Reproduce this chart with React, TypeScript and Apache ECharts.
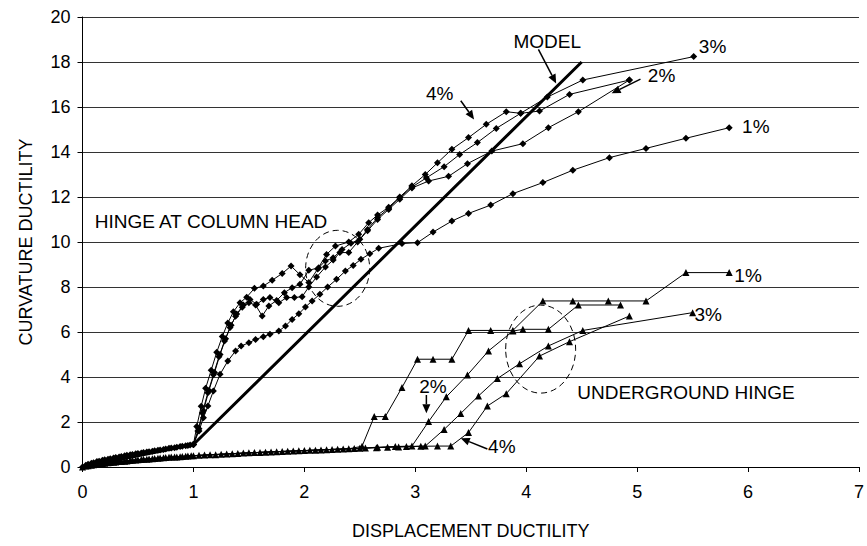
import React, { useEffect, useRef } from "react";
import * as echarts from "echarts";

const FONT = "'Liberation Sans', Arial, sans-serif";

const xAxisMin = 0;
const xAxisMax = 7;
const xAxisStep = 1;
const yAxisMin = 0;
const yAxisMax = 20;
const yAxisStep = 2;

const modelLine = [[0, 0], [1, 1], [4.5, 18]];

// Hinge at column head (diamond markers)
const head1 = [
  [0, 0], [0.1, 0.19], [0.2, 0.32], [0.3, 0.42], [0.4, 0.52], [0.5, 0.6], [0.6, 0.68], [0.7, 0.76], [0.8, 0.84], [0.9, 0.92],
  [1.0, 1.0], [1.05, 1.6], [1.09, 2.19], [1.13, 2.71], [1.18, 3.38], [1.24, 4.12], [1.31, 4.71], [1.38, 5.16], [1.43, 5.38],
  [1.5, 5.52], [1.56, 5.67], [1.63, 5.79], [1.69, 5.9], [1.77, 6.04], [1.83, 6.27], [1.89, 6.56], [1.95, 6.81], [2.01, 7.11],
  [2.07, 7.38], [2.14, 7.68], [2.21, 8.0], [2.29, 8.34], [2.37, 8.71], [2.44, 8.96], [2.51, 9.23], [2.59, 9.48], [2.67, 9.72],
  [2.88, 9.93], [3.02, 9.97], [3.16, 10.44], [3.33, 10.93], [3.48, 11.27], [3.68, 11.64], [3.88, 12.15], [4.15, 12.64],
  [4.42, 13.19], [4.75, 13.75], [5.08, 14.16], [5.44, 14.61], [5.83, 15.08],
];
const head2 = [
  [0.05, 0.12], [0.15, 0.26], [0.25, 0.37], [0.35, 0.47], [0.45, 0.56], [0.55, 0.64], [0.65, 0.72], [0.75, 0.8], [0.85, 0.88], [0.95, 0.96],
  [1.0, 1.0], [1.05, 1.7], [1.09, 2.5], [1.14, 3.4], [1.19, 4.2], [1.24, 5.0], [1.29, 5.7], [1.34, 6.3], [1.39, 6.8], [1.45, 7.2],
  [1.51, 7.45], [1.57, 7.23], [1.63, 7.45], [1.69, 7.53], [1.77, 7.3], [1.84, 7.53], [1.91, 7.53], [1.98, 7.57], [2.04, 8.0],
  [2.11, 8.44], [2.19, 8.89], [2.26, 9.2], [2.32, 9.53], [2.4, 9.53], [2.48, 10.0], [2.57, 10.5], [2.66, 11.0], [2.76, 11.45],
  [2.86, 11.9], [2.97, 12.4], [3.12, 12.71], [3.3, 12.92], [3.47, 13.48], [3.69, 14.04], [3.97, 14.37], [4.2, 15.08],
  [4.47, 15.79], [4.93, 17.2],
];
const head3 = [
  [0.03, 0.08], [0.13, 0.24], [0.23, 0.35], [0.33, 0.45], [0.43, 0.54], [0.53, 0.62], [0.63, 0.7], [0.73, 0.78], [0.83, 0.86], [0.93, 0.94],
  [1.0, 1.0], [1.04, 1.6], [1.08, 2.4], [1.13, 3.3], [1.18, 4.1], [1.23, 4.9], [1.28, 5.6], [1.33, 6.2], [1.38, 6.7], [1.44, 7.1],
  [1.5, 7.3], [1.56, 7.2], [1.62, 6.71], [1.68, 7.16], [1.75, 7.4], [1.82, 7.75], [1.89, 7.97], [1.96, 8.12], [2.04, 8.74],
  [2.13, 8.86], [2.19, 9.16], [2.26, 9.3], [2.34, 9.67], [2.42, 9.95], [2.5, 10.12], [2.57, 10.56], [2.66, 11.08], [2.76, 11.5],
  [2.86, 11.97], [2.97, 12.44], [3.1, 12.85], [3.26, 13.35], [3.4, 13.89], [3.56, 14.42], [3.73, 15.05], [3.95, 15.72],
  [4.19, 16.44], [4.51, 17.2], [5.51, 18.24],
];
const head4 = [
  [0.08, 0.17], [0.18, 0.3], [0.28, 0.4], [0.38, 0.5], [0.48, 0.59], [0.58, 0.67], [0.68, 0.75], [0.78, 0.83], [0.88, 0.91], [0.97, 0.98],
  [1.0, 1.0], [1.03, 1.8], [1.07, 2.7], [1.11, 3.5], [1.16, 4.3], [1.21, 5.1], [1.26, 5.8], [1.31, 6.4], [1.36, 6.9], [1.42, 7.3],
  [1.48, 7.55], [1.55, 7.94], [1.63, 8.04], [1.71, 8.3], [1.8, 8.6], [1.88, 8.93], [1.96, 8.55], [2.04, 8.2], [2.12, 8.8],
  [2.2, 9.45], [2.28, 9.82], [2.4, 10.0], [2.49, 10.34], [2.58, 10.86], [2.66, 11.2], [2.76, 11.55], [2.86, 12.0], [2.97, 12.5],
  [3.09, 13.0], [3.2, 13.52], [3.33, 14.12], [3.48, 14.64], [3.64, 15.23], [3.82, 15.79], [3.95, 15.72], [4.12, 15.82],
  [4.39, 16.56], [4.93, 17.2],
];

// Underground hinge (triangle markers)
const ground1 = [
  [0, 0], [0.1, 0.1], [0.2, 0.17], [0.3, 0.22], [0.4, 0.27], [0.5, 0.32], [0.6, 0.36], [0.7, 0.4], [0.8, 0.44], [0.9, 0.47],
  [1.0, 0.5], [1.2, 0.55], [1.4, 0.6], [1.6, 0.65], [1.8, 0.69], [2.0, 0.73], [2.2, 0.77], [2.4, 0.81], [2.52, 0.92],
  [2.63, 2.24], [2.73, 2.24], [2.88, 3.53], [3.02, 4.79], [3.16, 4.79], [3.33, 4.79], [3.48, 6.07], [3.68, 6.07], [3.88, 6.07],
  [4.15, 7.38], [4.42, 7.38], [4.74, 7.38], [5.08, 7.38], [5.44, 8.64], [5.83, 8.64],
];
const ground2 = [
  [0.05, 0.06], [0.15, 0.14], [0.25, 0.2], [0.35, 0.25], [0.45, 0.3], [0.55, 0.34], [0.65, 0.38], [0.75, 0.42], [0.85, 0.45], [0.95, 0.49],
  [1.1, 0.53], [1.3, 0.58], [1.5, 0.63], [1.7, 0.67], [1.9, 0.71], [2.1, 0.75], [2.3, 0.79], [2.5, 0.83], [2.66, 0.88], [2.82, 0.91],
  [2.97, 0.93], [3.12, 2.02], [3.28, 3.12], [3.47, 4.09], [3.66, 5.16], [3.88, 6.04], [3.97, 6.12], [4.2, 6.12], [4.47, 7.2], [4.85, 7.2],
];
const ground3 = [
  [0.03, 0.04], [0.13, 0.12], [0.23, 0.19], [0.33, 0.24], [0.43, 0.29], [0.53, 0.33], [0.63, 0.37], [0.73, 0.41], [0.83, 0.44], [0.93, 0.48],
  [1.15, 0.54], [1.35, 0.59], [1.55, 0.64], [1.75, 0.68], [1.95, 0.72], [2.15, 0.76], [2.35, 0.8], [2.55, 0.84], [2.75, 0.88], [2.92, 0.91],
  [3.09, 0.93], [3.26, 1.67], [3.41, 2.38], [3.57, 3.16], [3.74, 3.93], [3.94, 4.59], [4.2, 5.38], [4.51, 6.07], [5.5, 6.86],
];
const ground4 = [
  [0.08, 0.08], [0.18, 0.16], [0.28, 0.21], [0.38, 0.26], [0.48, 0.31], [0.58, 0.35], [0.68, 0.39], [0.78, 0.43], [0.88, 0.46], [0.98, 0.5],
  [1.05, 0.52], [1.25, 0.57], [1.45, 0.62], [1.65, 0.66], [1.85, 0.7], [2.05, 0.74], [2.25, 0.78], [2.45, 0.82], [2.65, 0.86], [2.85, 0.89],
  [3.05, 0.92], [3.2, 0.93], [3.32, 0.93], [3.48, 1.53], [3.65, 2.71], [3.82, 3.26], [4.12, 4.93], [4.39, 5.57], [4.93, 6.71],
];

const seriesNames = ["1%", "2%", "3%", "4%"];

// Annotations (data coordinates)
const labelTexts = [
  { text: "MODEL", at: [4.19, 18.93], align: "center" },
  { text: "4%", at: [3.22, 16.58], align: "center" },
  { text: "3%", at: [5.68, 18.67], align: "center" },
  { text: "2%", at: [5.22, 17.42], align: "center" },
  { text: "1%", at: [6.07, 15.12], align: "center" },
  { text: "HINGE AT COLUMN HEAD", at: [0.11, 10.93], align: "left" },
  { text: "UNDERGROUND HINGE", at: [4.46, 3.33], align: "left" },
  { text: "1%", at: [6.0, 8.49], align: "center" },
  { text: "3%", at: [5.64, 6.76], align: "center" },
  { text: "2%", at: [3.16, 3.6], align: "center" },
  { text: "4%", at: [3.78, 0.93], align: "center" },
];
const arrowList = [
  { from: [4.11, 18.56], to: [4.27, 17.05] },
  { from: [3.41, 16.28], to: [3.53, 15.45] },
  { from: [5.03, 17.24], to: [4.77, 16.61] },
  { from: [3.1, 3.2], to: [3.1, 2.39] },
  { from: [3.65, 0.8], to: [3.41, 1.28] },
];
const dashedRings = [
  { center: [2.3, 8.83], rx: 32, ry: 38 },
  { center: [4.13, 5.24], rx: 35, ry: 44 },
];

function lineSeries(name: string, data: number[][], symbol: string, size: number) {
  return {
    name,
    type: "line",
    data,
    symbol,
    symbolSize: size,
    showSymbol: true,
    silent: true,
    lineStyle: { color: "#000", width: 1 },
    itemStyle: { color: "#000", borderWidth: 0 },
    z: 3,
  };
}

export default function App() {
  const ref = useRef<HTMLDivElement>(null);
  useEffect(() => {
    if (!ref.current) return;
    const chart = echarts.init(ref.current, null, { renderer: "svg" });
    const heads = [head1, head2, head3, head4];
    const grounds = [ground1, ground2, ground3, ground4];
    const series: any[] = [];
    heads.forEach((d, i) => series.push(lineSeries("Head " + seriesNames[i], d, "diamond", 7)));
    grounds.forEach((d, i) => series.push(lineSeries("Underground " + seriesNames[i], d, "triangle", 7)));
    series.push({
      name: "MODEL",
      type: "line",
      data: modelLine,
      symbol: "none",
      silent: true,
      lineStyle: { color: "#000", width: 3 },
      z: 4,
    });
    chart.setOption({
      animation: false,
      backgroundColor: "#fff",
      grid: { left: 82.5, right: 7, top: 17, bottom: 79, containLabel: false },
      xAxis: {
        type: "value",
        min: xAxisMin,
        max: xAxisMax,
        interval: xAxisStep,
        name: "DISPLACEMENT DUCTILITY",
        nameLocation: "middle",
        nameGap: 55,
        nameTextStyle: { fontFamily: FONT, fontSize: 18, color: "#000" },
        axisLine: { lineStyle: { color: "#000", width: 1 } },
        axisTick: { show: true, inside: false, length: 5, lineStyle: { color: "#000" } },
        axisLabel: { fontFamily: FONT, fontSize: 18, color: "#000", margin: 16 },
        splitLine: { show: false },
      },
      yAxis: {
        type: "value",
        min: yAxisMin,
        max: yAxisMax,
        interval: yAxisStep,
        name: "CURVATURE DUCTILITY",
        nameLocation: "middle",
        nameGap: 48,
        nameTextStyle: { fontFamily: FONT, fontSize: 18, color: "#000" },
        axisLine: { show: true, lineStyle: { color: "#000", width: 1 } },
        axisTick: { show: true, inside: false, length: 5, lineStyle: { color: "#000" } },
        axisLabel: { fontFamily: FONT, fontSize: 18, color: "#000", margin: 12 },
        splitLine: { show: true, lineStyle: { color: "#333", width: 1 } },
      },
      series,
    });

    const px = (p: number[]) => chart.convertToPixel({ gridIndex: 0 }, p) as number[];
    const graphic: any[] = [];
    labelTexts.forEach((t) => {
      const [x, y] = px(t.at);
      graphic.push({
        type: "text",
        x,
        y,
        z: 10,
        style: {
          text: t.text,
          fontFamily: FONT,
          fontSize: 19,
          fill: "#000",
          textAlign: t.align,
          textVerticalAlign: "middle",
        },
      });
    });
    arrowList.forEach((a) => {
      const [x0, y0] = px(a.from);
      const [x1, y1] = px(a.to);
      const dx = x1 - x0;
      const dy = y1 - y0;
      const len = Math.sqrt(dx * dx + dy * dy) || 1;
      const ux = dx / len;
      const uy = dy / len;
      const headLen = 9;
      const headW = 4;
      const bx = x1 - ux * headLen;
      const by = y1 - uy * headLen;
      graphic.push({
        type: "line",
        z: 10,
        shape: { x1: x0, y1: y0, x2: bx, y2: by },
        style: { stroke: "#000", lineWidth: 1.5 },
      });
      graphic.push({
        type: "polygon",
        z: 10,
        shape: {
          points: [
            [x1, y1],
            [bx - uy * headW, by + ux * headW],
            [bx + uy * headW, by - ux * headW],
          ],
        },
        style: { fill: "#000" },
      });
    });
    dashedRings.forEach((r) => {
      const [cx, cy] = px(r.center);
      graphic.push({
        type: "ellipse",
        z: 9,
        shape: { cx, cy, rx: r.rx, ry: r.ry },
        style: { fill: "none", stroke: "#000", lineWidth: 1, lineDash: [6, 4] },
      });
    });
    chart.setOption({ graphic });

    return () => chart.dispose();
  }, []);
  return (
    <div
      ref={ref}
      style={{ position: "fixed", left: 0, top: 0, width: 867, height: 546, background: "#fff" }}
    />
  );
}
